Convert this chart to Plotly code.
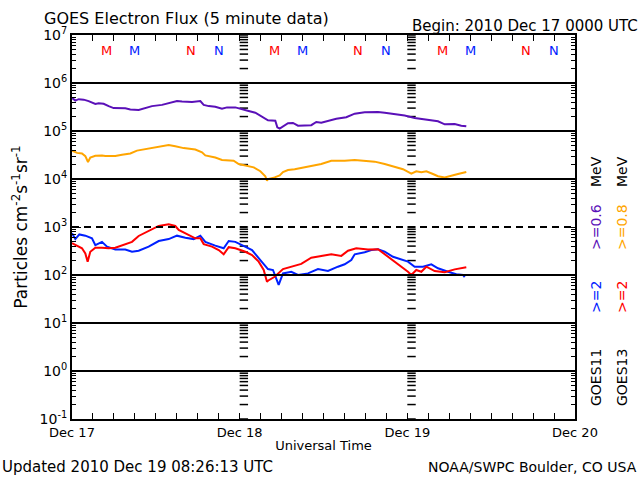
import pandas as pd
import plotly.graph_objects as go

START = pd.Timestamp("2010-12-17 00:00")

# GOES11 >=0.6 MeV (hours since start, flux)
p_hours = [0, 0.48, 0.95, 1.67, 2.38, 3.34, 3.82, 4.53, 5.25, 5.96, 7.63, 8.35, 9.54, 10.26,
           11.45, 12.88, 14.31, 15.03, 15.75, 17.18, 18.37, 18.85, 19.57, 20.51, 21.47, 22.19,
           23.38, 24.33, 25.29, 26.24, 27.20, 28.05, 29.10, 29.39, 29.73, 30.20, 30.92, 31.63,
           32.35, 34.25, 34.97, 35.68, 36.89, 37.83, 39.26, 40.47, 41.90, 43.80, 44.76, 46.19,
           47.62, 49.05, 50.96, 52.39, 53.35, 54.78, 55.72, 56.44]
p_flux = [4.9e5, 4.3e5, 4.6e5, 4.5e5, 4.2e5, 3.65e5, 3.8e5, 3.7e5, 3.3e5, 3.0e5, 2.97e5, 2.8e5,
          2.74e5, 2.9e5, 3.3e5, 3.5e5, 3.9e5, 4.2e5, 4.1e5, 4.0e5, 4.2e5, 3.5e5, 3.3e5, 3.2e5,
          2.9e5, 3.1e5, 3.1e5, 2.8e5, 2.6e5, 2.4e5, 2.0e5, 1.67e5, 1.64e5, 1.19e5, 1.12e5,
          1.25e5, 1.45e5, 1.47e5, 1.29e5, 1.32e5, 1.54e5, 1.49e5, 1.67e5, 1.8e5, 1.93e5, 2.3e5,
          2.45e5, 2.5e5, 2.4e5, 2.26e5, 2.1e5, 1.87e5, 1.72e5, 1.59e5, 1.38e5, 1.4e5, 1.29e5,
          1.25e5]

# GOES13 >=0.8 MeV
o_hours = [0, 0.72, 1.43, 1.91, 2.29, 2.62, 3.34, 4.29, 4.77, 6.20, 7.16, 8.35, 9.30, 10.26,
           11.45, 12.41, 13.84, 14.79, 15.99, 17.65, 18.61, 19.08, 20.51, 21.47, 23.14, 23.86,
           24.81, 26.01, 26.96, 27.67, 27.91, 28.05, 29.01, 29.73, 30.20, 30.92, 31.87, 32.82,
           34.25, 35.68, 37.12, 39.03, 40.47, 41.90, 43.33, 44.76, 46.19, 47.38, 48.57, 49.28,
           50.00, 50.72, 51.67, 52.39, 53.35, 54.29, 55.25, 56.44]
o_flux = [3.9e4, 3.5e4, 3.4e4, 3.0e4, 2.26e4, 2.8e4, 3.05e4, 3.1e4, 3.0e4, 3.0e4, 3.2e4, 3.4e4,
          3.9e4, 4.1e4, 4.4e4, 4.7e4, 5.1e4, 4.8e4, 4.4e4, 4.1e4, 3.6e4, 3.1e4, 2.8e4, 2.5e4,
          2.4e4, 2.05e4, 1.93e4, 1.75e4, 1.45e4, 1.14e4, 9.2e3, 1.0e4, 1.08e4, 1.19e4, 1.4e4,
          1.54e4, 1.6e4, 1.7e4, 1.93e4, 2.05e4, 2.4e4, 2.4e4, 2.5e4, 2.37e4, 2.3e4, 2.05e4,
          1.78e4, 1.6e4, 1.29e4, 1.45e4, 1.38e4, 1.45e4, 1.27e4, 1.14e4, 1.08e4, 1.19e4, 1.27e4,
          1.4e4]

# GOES13 >=2 MeV
r_hours = [0, 0.72, 1.43, 1.91, 2.24, 2.62, 3.34, 4.29, 5.25, 6.20, 7.16, 8.59, 9.54, 10.97,
           12.41, 13.84, 14.79, 15.27, 16.22, 17.65, 18.37, 18.85, 20.04, 21.00, 21.71, 22.43,
           23.38, 24.81, 25.77, 26.72, 27.44, 27.91, 28.05, 29.01, 30.20, 31.39, 32.82, 34.25,
           35.68, 37.12, 38.55, 39.51, 40.69, 42.37, 43.80, 44.76, 45.95, 47.14, 48.09, 48.57,
           49.28, 50.00, 50.72, 51.92, 53.35, 54.78, 56.44]
r_flux = [460, 410, 360, 280, 190, 305, 370, 370, 360, 370, 420, 490, 650, 840, 1050, 1140, 1050,
          870, 740, 580, 580, 440, 390, 330, 270, 380, 360, 305, 260, 190, 127, 72, 76, 92, 133,
          149, 170, 230, 250, 270, 250, 320, 360, 340, 345, 270, 205, 149, 117, 100, 127, 117,
          149, 121, 114, 131, 145]

# GOES11 >=2 MeV
b_hours = [0, 0.48, 1.05, 1.91, 2.86, 3.34, 4.29, 5.01, 6.20, 7.63, 8.59, 9.54, 10.97, 12.41,
           13.84, 15.03, 16.22, 17.42, 18.37, 19.08, 20.51, 21.71, 22.43, 23.38, 24.33, 25.77,
           26.96, 27.91, 28.05, 28.77, 29.24, 29.58, 30.20, 31.39, 32.35, 33.78, 35.21, 36.64,
           38.07, 39.03, 39.98, 40.47, 41.90, 42.84, 43.80, 44.76, 45.95, 47.14, 48.09, 49.05,
           50.24, 51.43, 52.39, 53.82, 55.01, 55.97, 56.21]
b_flux = [740, 560, 700, 660, 580, 420, 490, 390, 340, 340, 305, 320, 390, 510, 560, 660, 600,
          560, 660, 490, 410, 360, 510, 490, 420, 330, 205, 138, 133, 127, 79, 62, 108, 117, 100,
          108, 133, 121, 149, 167, 205, 270, 297, 330, 345, 305, 240, 210, 190, 149, 149, 167,
          138, 117, 104, 100, 90]

day_labels = ["Dec 17", "Dec 18", "Dec 19", "Dec 20"]
mn_labels = ["M", "M", "N", "N"]
mn_hours = [5, 9, 17, 21]
mn_sat = ["GOES13", "GOES11", "GOES13", "GOES11"]

PURPLE, ORANGE, RED, BLUE = "#5a10b8", "#ffa500", "#ff0000", "#0020ff"
FONT = "DejaVu Sans"

L, R, T, B = 72, 575, 35, 419


def px(x):
    return (x - L) / (R - L)


def py(y):
    return (B - y) / (B - T)


def to_time(hours):
    return [START + pd.Timedelta(hours=h) for h in hours]


fig = go.Figure()

# day-boundary tick columns
major_vals = [10.0 ** e for e in range(-1, 8)]
minor_vals = [k * 10.0 ** e for e in range(-1, 7) for k in range(2, 10)]
for d in (1, 2):
    xt = START + pd.Timedelta(days=d) + pd.Timedelta(minutes=36)
    vals = major_vals + minor_vals
    fig.add_trace(go.Scatter(x=[xt] * len(vals), y=vals, mode="markers",
                             marker=dict(symbol="line-ew", size=6,
                                         line=dict(color="black", width=1.5)),
                             hoverinfo="skip"))

for hours, flux, col in [(p_hours, p_flux, PURPLE), (o_hours, o_flux, ORANGE),
                         (b_hours, b_flux, BLUE), (r_hours, r_flux, RED)]:
    fig.add_trace(go.Scatter(x=to_time(hours), y=flux, mode="lines",
                             line=dict(color=col, width=2), hoverinfo="skip"))

# horizontal lines
for e in [6, 5, 4, 2, 1, 0]:
    fig.add_shape(type="line", xref="paper", x0=0, x1=1, yref="y", y0=10 ** e, y1=10 ** e,
                  line=dict(color="black", width=2))
fig.add_shape(type="line", xref="paper", x0=0, x1=1, yref="y", y0=1e3, y1=1e3,
              line=dict(color="black", width=2, dash="7px,5px"))

ann = []
for d in range(3):
    for lab, h, sat in zip(mn_labels, mn_hours, mn_sat):
        ann.append(dict(x=START + pd.Timedelta(days=d, hours=h), xref="x", y=py(50), yref="paper",
                        text=lab, showarrow=False, xanchor="center", yanchor="middle",
                        font=dict(size=13, color=RED if sat == "GOES13" else BLUE)))

ann.append(dict(x=px(42), y=py(18), xref="paper", yref="paper", xanchor="left", yanchor="middle",
                text="GOES Electron Flux (5 minute data)", showarrow=False,
                font=dict(size=16)))
ann.append(dict(x=px(640), y=py(26), xref="paper", yref="paper", xanchor="right", yanchor="middle",
                text="Begin: 2010 Dec 17 0000 UTC", showarrow=False, font=dict(size=15)))
ann.append(dict(x=px(0), y=py(467), xref="paper", yref="paper", xanchor="left", yanchor="middle",
                text="Updated 2010 Dec 19 08:26:13 UTC", showarrow=False, font=dict(size=15)))
ann.append(dict(x=px(639), y=py(467), xref="paper", yref="paper", xanchor="right", yanchor="middle",
                text="NOAA/SWPC Boulder, CO USA", showarrow=False, font=dict(size=14)))

right_cols = [
    (596, [("GOES11", "black", 378), (">=2", BLUE, 297), (">=0.6", PURPLE, 227), ("MeV", "black", 172)]),
    (622, [("GOES13", "black", 378), (">=2", RED, 297), (">=0.8", ORANGE, 227), ("MeV", "black", 172)]),
]
for xc, items in right_cols:
    for txt, col, yc in items:
        ann.append(dict(x=px(xc), y=py(yc), xref="paper", yref="paper", xanchor="center",
                        yanchor="middle", text=txt, textangle=-90, showarrow=False,
                        font=dict(size=14, color=col)))

fig.update_layout(
    width=640, height=480,
    margin=dict(l=L, r=640 - R, t=T, b=480 - B),
    paper_bgcolor="white", plot_bgcolor="white", showlegend=False,
    font=dict(family=FONT, size=13, color="black"),
    annotations=ann,
)

fig.update_xaxes(
    type="date", range=[START, START + pd.Timedelta(days=3)],
    tickmode="array", tickvals=[START + pd.Timedelta(days=i) for i in range(4)], ticktext=day_labels,
    ticks="inside", ticklen=6, tickwidth=1, tickcolor="black",
    showline=True, linecolor="black", linewidth=2, mirror="allticks",
    showgrid=False, zeroline=False,
    minor=dict(ticks="inside", ticklen=6, dtick=3 * 3600 * 1000, tick0=START,
               tickcolor="black", tickwidth=1, showgrid=False),
    tickfont=dict(size=13),
    title=dict(text="Universal Time", font=dict(size=13), standoff=2),
)

fig.update_yaxes(
    type="log", range=[-1, 7],
    tickmode="array", tickvals=major_vals,
    ticktext=["10<sup>%d</sup>" % e for e in range(-1, 8)],
    ticks="inside", ticklen=9, tickwidth=1, tickcolor="black",
    showline=True, linecolor="black", linewidth=2, mirror="allticks",
    showgrid=False, zeroline=False,
    minor=dict(ticks="inside", ticklen=4, tickmode="array", tickvals=minor_vals,
               tickcolor="black", tickwidth=1, showgrid=False),
    tickfont=dict(size=14),
    title=dict(text="Particles cm<sup>-2</sup>s<sup>-1</sup>sr<sup>-1</sup>", font=dict(size=17),
               standoff=8),
)

fig.write_html("out.html", config={"displayModeBar": False},
               post_script="document.body.style.margin='0px';")
